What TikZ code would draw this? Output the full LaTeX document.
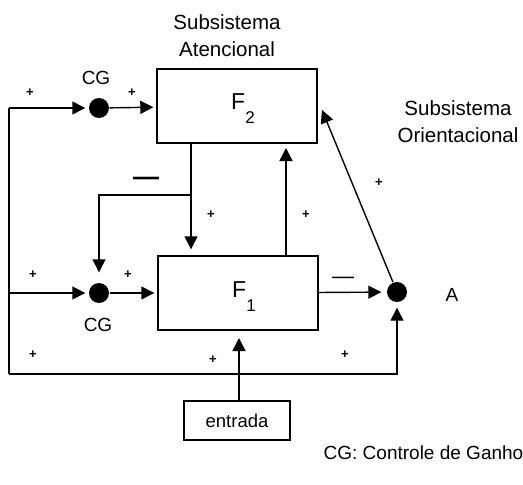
\documentclass[tikz,border=0pt]{standalone}
\usepackage{fontspec}
\setmainfont{Liberation Sans}
\usetikzlibrary{arrows.meta}
\begin{document}
\begin{tikzpicture}[x=1pt,y=-1pt,
  line width=1.4pt,
  arr/.style={-{Triangle[length=13pt,width=13pt]}},
  block/.style={draw,line width=1.4pt,minimum width=160pt,minimum height=74pt,inner sep=0pt},
  dot/.style={circle,fill=black,minimum size=20pt,inner sep=0pt},
  lbl/.style={inner sep=0pt,font=\fontsize{19}{19}\selectfont},
  title/.style={inner sep=0pt,font=\fontsize{20.5}{27}\selectfont,align=center},
  sgn/.style={inner sep=0pt,font=\bfseries\fontsize{13}{13}\selectfont},
  neg/.style={inner sep=0pt,font=\bfseries\fontsize{26}{26}\selectfont}]
\useasboundingbox (0,0) rectangle (523,485);

% blocks and summing points
\node[block] (F2) at (237,106) {};
\node[block] (F1) at (238,293) {};
\node[draw,line width=1.4pt,minimum width=106pt,minimum height=39pt,inner sep=0pt,
      font=\fontsize{18.5}{18.5}\selectfont] (in) at (237,420.5) {entrada};
\node[dot] (cg2) at (99,108) {};
\node[dot] (cg1) at (99,293) {};
\node[dot] (A) at (397,292) {};

% block names
\node[inner sep=0pt] at (243,109) {{\fontsize{23}{23}\selectfont F}\raisebox{-14pt}{\fontsize{17}{17}\selectfont 2}};
\node[inner sep=0pt] at (244,297) {{\fontsize{23}{23}\selectfont F}\raisebox{-14pt}{\fontsize{17}{17}\selectfont 1}};

% helper points on the wiring
\coordinate (tl) at (9,108);
\coordinate (ml) at (9,293);
\coordinate (bl) at (9,374);
\coordinate (dn) at (191,143);
\coordinate (fork) at (191,195);
\coordinate (up) at (286,143);
\coordinate (f2in) at (322,110);

% outer loop on the left and bottom
\draw (tl) -- (bl);
\draw[arr,shorten >=3pt] (tl) -- (cg2);
\draw[arr,shorten >=3pt] (ml) -- (cg1);
\draw[arr,shorten >=5pt] (bl) -| (A);

% gain control to the fields
\draw[arr,shorten >=3pt] (cg2) -- (F2);
\draw[arr,shorten >=3pt] (cg1) -- (F1);

% top-down path and its branch
\draw[arr,shorten >=6pt] (dn) -- (dn |- F1.north);
\draw[arr,shorten >=10pt] (fork) -| (cg1);

% bottom-up path
\draw[arr,shorten >=5pt] (up |- F1.north) -- (up);

% orienting subsystem
\draw[arr,shorten >=5pt] (F1) -- (A);
\draw[arr] (A) -- (f2in);

% input
\draw[arr,shorten >=8pt] (in.north -| 239,0) -- (239,330);

% texts
\node[title] at (227,36) {Subsistema\\Atencional};
\node[title] at (458,122) {Subsistema\\Orientacional};
\node[lbl] at (96,78) {CG};
\node[lbl] at (98,325) {CG};
\node[lbl] at (452,295) {A};
\node[lbl,anchor=east] at (524,453) {CG: Controle de Ganho};

\node[sgn] at (30,93) {+};
\node[sgn] at (132,93) {+};
\node[sgn] at (33,275) {+};
\node[sgn] at (128,275) {+};
\node[sgn] at (211,215) {+};
\node[sgn] at (306,215) {+};
\node[sgn] at (379,183) {+};
\node[sgn] at (33,355) {+};
\node[sgn] at (213,360) {+};
\node[sgn] at (345,355) {+};
\node[neg] at (146,181) {—};
\node[neg,font=\fontsize{22}{22}\selectfont] at (343,280) {—};
\end{tikzpicture}
\end{document}
